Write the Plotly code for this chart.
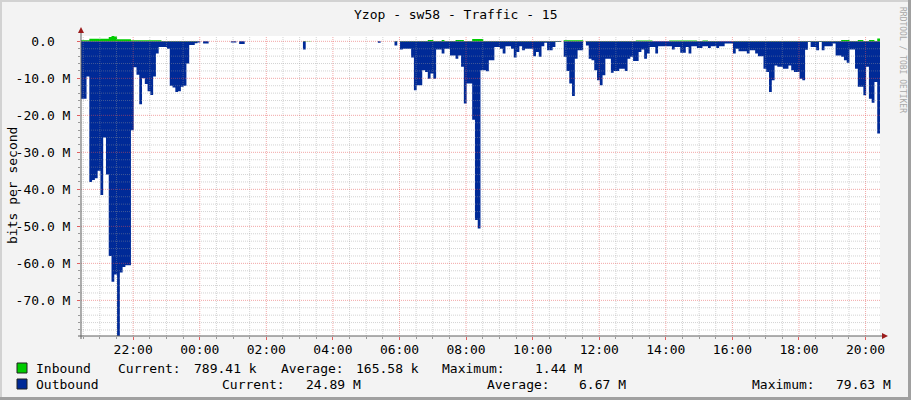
import pandas as pd
import plotly.graph_objects as go

# ---------------- data (Mbit/s, 5-minute steps) ----------------
start_time = "2024-01-01 20:26"
step_minutes = 5

outbound_m = [
    15.5, 15.5, 9.5, 38, 37.5, 37, 35, 41.5, 26, 36, 58, 65,
    63, 79.63, 62.5, 61, 60.5, 60.5, 24, 7, 9, 17, 10, 11.5,
    13.5, 14.5, 9.5, 3.3, 1.5, 1.5, 1.5, 2, 12, 12.5, 13.7, 13.5,
    12.3, 12, 6, 1, 1, 0.5, 0.3, 0, 0.6, 0.6, 0, 0,
    0, 0, 0, 0, 0, 0, 0.3, 0.3, 0, 0.7, 0.7, 0,
    0, 0, 0, 0, 0, 0, 0, 0, 0, 0, 0, 0,
    0, 0, 0, 0, 0, 0, 0, 0, 2.2, 0, 0, 0,
    0, 0, 0, 0, 0, 0, 0, 0, 0, 0, 0, 0,
    0, 0, 0, 0, 0, 0, 0, 0, 0, 0, 0, 0.4,
    0, 0, 0, 0, 0, 1.1, 0, 2.2, 2, 2, 2, 4.4,
    13.2, 11.9, 11.9, 7.8, 8.3, 10.1, 8.7, 10.1, 2.2, 2.2, 3.3, 2,
    2, 3.8, 3.8, 4.7, 3.8, 6.9, 16.8, 11.4, 11.4, 21.2, 48.3, 50.6,
    7.8, 7.8, 8.1, 5.1, 5.1, 1.5, 1.5, 2, 3.3, 1.3, 1.3, 2,
    4.4, 2.9, 1.3, 2.4, 2, 2, 2, 4, 2.9, 4.2, 1.3, 0.4,
    2.4, 2.4, 1.5, 0.2, 0.2, 0, 4.2, 8, 11.4, 14.8, 4.7, 2.4,
    2.4, 0, 1.1, 4.7, 5.1, 7.8, 10.5, 11.9, 9.2, 4.7, 4.7, 8.5,
    8, 8, 7.4, 7.4, 8, 4.7, 4.2, 5.3, 5.3, 2.9, 2.2, 4.7,
    3.3, 1.5, 1.5, 3.3, 1.3, 1.3, 1.3, 1.3, 1.3, 2.2, 1.5, 1.5,
    3.1, 3.1, 1.5, 3.3, 1.3, 1.3, 1.8, 1.8, 1.3, 1.3, 1.8, 1.3,
    1.3, 1.8, 1.3, 1.3, 0.6, 0.6, 0.6, 3.3, 2, 2.7, 2.7, 2.7,
    3.3, 2.4, 2.4, 3.3, 4, 4, 7.4, 8.3, 13.7, 10.5, 6.5, 6.9,
    6.9, 7.4, 7.4, 6.5, 7.8, 8.3, 8.3, 10.1, 10.5, 2.3, 0.2, 1.5,
    1.5, 2.4, 0.2, 2.4, 1.3, 1.3, 1.3, 0.6, 3.8, 3.8, 4.2, 5.1,
    5.8, 2.2, 2.2, 7.4, 12.3, 12.3, 14.6, 6.9, 15.5, 16.6, 11, 24.89,
]

inbound_m = [
    0.3, 0.3, 0.3, 0.7, 0.7, 0.7, 0.7, 0.7, 0.7, 0.7, 1.2, 1.44,
    1.3, 0.55, 0.55, 0.55, 0.55, 0.55, 0.3, 0.3, 0.3, 0.3, 0.3, 0.3,
    0.3, 0.3, 0.3, 0.3, 0.3, 0.1, 0.1, 0.1, 0.1, 0.1, 0.1, 0.1,
    0.1, 0.1, 0.1, 0.1, 0.1, 0.1, 0, 0, 0, 0, 0, 0,
    0, 0, 0, 0, 0, 0, 0, 0, 0, 0, 0, 0,
    0, 0, 0, 0, 0, 0, 0, 0, 0, 0, 0, 0,
    0, 0, 0, 0, 0, 0, 0, 0, 0.1, 0.1, 0.1, 0,
    0, 0, 0, 0, 0, 0, 0, 0, 0, 0, 0, 0,
    0, 0, 0, 0, 0, 0, 0, 0, 0, 0, 0, 0,
    0, 0, 0, 0, 0, 0.1, 0, 0.1, 0.1, 0.1, 0.1, 0.1,
    0.1, 0.1, 0.1, 0.1, 0.1, 0.35, 0.35, 0.1, 0.1, 0.1, 0.35, 0.1,
    0.1, 0.1, 0.1, 0.35, 0.35, 0.35, 0.1, 0.1, 0.1, 0.6, 0.6, 0.6,
    0.6, 0.1, 0.1, 0.1, 0.1, 0.1, 0.1, 0.1, 0.1, 0.1, 0.1, 0.1,
    0.1, 0.1, 0.1, 0.1, 0.1, 0.1, 0.1, 0.1, 0.1, 0.1, 0.1, 0.1,
    0.1, 0.1, 0.1, 0.1, 0.1, 0, 0.3, 0.3, 0.3, 0.3, 0.3, 0.3,
    0.3, 0, 0.1, 0.1, 0.1, 0.1, 0.1, 0.1, 0.1, 0.1, 0.1, 0.1,
    0.1, 0.1, 0.1, 0.1, 0.1, 0.1, 0.1, 0.1, 0.2, 0.2, 0.2, 0.2,
    0.2, 0.2, 0, 0, 0, 0, 0, 0, 0.2, 0.2, 0.2, 0.2,
    0.2, 0.2, 0.2, 0.2, 0.2, 0.2, 0.1, 0.1, 0.2, 0.2, 0.1, 0.1,
    0.1, 0.1, 0, 0, 0, 0, 0, 0.1, 0.1, 0.1, 0.1, 0.1,
    0.1, 0.1, 0.1, 0.1, 0.1, 0.1, 0.1, 0.1, 0.1, 0.1, 0.1, 0.1,
    0.1, 0.1, 0.1, 0.1, 0.1, 0.1, 0.1, 0.1, 0.1, 0.1, 0.1, 0.1,
    0.1, 0.1, 0.1, 0.1, 0.1, 0.1, 0.1, 0.1, 0.1, 0.1, 0.35, 0.35,
    0.35, 0.1, 0.1, 0.1, 0.35, 0.35, 0.1, 0.1, 0.35, 0.35, 0.1, 0.79,
]

y_tick_values = [0, -10e6, -20e6, -30e6, -40e6, -50e6, -60e6, -70e6]
y_tick_labels = ["0.0&nbsp;&nbsp;", "-10.0 M", "-20.0 M", "-30.0 M", "-40.0 M", "-50.0 M", "-60.0 M", "-70.0 M"]

title_text = "Yzop - sw58 - Traffic - 15"
legend_rows = [
    ("Inbound", "#00CC00", [("Current:", "789.41 k"), ("Average:", "165.58 k"), ("Maximum:", "1.44 M")]),
    ("Outbound", "#002A97", [("Current:", "24.89 M"), ("Average:", "6.67 M"), ("Maximum:", "79.63 M")]),
]

# ---------------- build ----------------
n = len(outbound_m)
times = pd.date_range(start=start_time, periods=n + 1, freq=f"{step_minutes}min")
out_vals = [-v * 1e6 for v in outbound_m] + [-outbound_m[-1] * 1e6]
in_vals = [v * 1e6 for v in inbound_m] + [inbound_m[-1] * 1e6]
y_min, y_max = -79.63e6, 1.44e6

FONT = "DejaVu Sans Mono"
W, H = 911, 400
L, R, T, B = 81, 880, 36, 336


def px(x):
    return (x - L) / (R - L)


def py(y):
    return (B - y) / (B - T)


fig = go.Figure()
fig.add_trace(go.Scatter(x=times, y=out_vals, mode="lines", line=dict(width=0, shape="hv", color="#002A97"),
                         fill="tozeroy", fillcolor="#002A97", hoverinfo="skip", showlegend=False))
fig.add_trace(go.Scatter(x=times, y=in_vals, mode="lines", line=dict(width=0, shape="hv", color="#00CC00"),
                         fill="tozeroy", fillcolor="#00CC00", hoverinfo="skip", showlegend=False))

major_grid = "rgba(230,80,80,0.5)"
minor_grid = "rgba(150,150,150,0.42)"
grid_dash = "1px,1px"

fig.update_xaxes(
    type="date", range=[times[0], times[-1]],
    tick0="2024-01-01 00:00", dtick=7200000, tickformat="%H:%M",
    showgrid=False,
    minor=dict(dtick=1800000, showgrid=False, ticks="outside", ticklen=2, tickcolor="#999999"),
    ticks="outside", ticklen=3, tickcolor="#E06060",
    showline=False, zeroline=False, ticklabelstandoff=-2,
    tickfont=dict(family=FONT, size=13, color="#000000"),
)
fig.update_yaxes(
    range=[y_min, y_max],
    tickmode="array", tickvals=y_tick_values, ticktext=y_tick_labels,
    showgrid=False,
    minor=dict(tick0=0, dtick=2e6, showgrid=False, ticks="outside", ticklen=2, tickcolor="#999999"),
    ticks="outside", ticklen=3, tickcolor="#E06060",
    showline=False, zeroline=False, ticklabelstandoff=4,
    tickfont=dict(family=FONT, size=13, color="#000000"),
)

shapes = []
# grid drawn above the areas (as rrdtool does)
for t in pd.date_range(times[0].ceil("30min"), times[-1], freq="30min"):
    is_major = t.minute == 0 and t.hour % 2 == 0
    shapes.append(dict(type="line", xref="x", yref="paper", x0=t, x1=t, y0=0, y1=1, layer="above",
                       line=dict(color=major_grid if is_major else minor_grid, width=1, dash=grid_dash)))
for v in range(0, int(y_min / 1e6) - 1, -2):
    if v * 1e6 < y_min:
        continue
    is_major = v % 10 == 0
    shapes.append(dict(type="line", xref="paper", yref="y", x0=0, x1=1, y0=v * 1e6, y1=v * 1e6, layer="above",
                       line=dict(color=major_grid if is_major else minor_grid, width=1, dash=grid_dash)))

# outer frame
shapes.append(dict(type="rect", xref="paper", yref="paper", x0=px(0), x1=px(W), y0=py(0), y1=py(2),
                   fillcolor="#D2D2D2", line=dict(width=0), layer="below"))
shapes.append(dict(type="rect", xref="paper", yref="paper", x0=px(0), x1=px(2), y0=py(0), y1=py(H),
                   fillcolor="#D2D2D2", line=dict(width=0), layer="below"))
shapes.append(dict(type="rect", xref="paper", yref="paper", x0=px(W - 3), x1=px(W), y0=py(0), y1=py(H),
                   fillcolor="#A0A0A0", line=dict(width=0), layer="below"))
shapes.append(dict(type="rect", xref="paper", yref="paper", x0=px(0), x1=px(W), y0=py(H - 3), y1=py(H),
                   fillcolor="#A0A0A0", line=dict(width=0), layer="below"))
# axis lines
shapes.append(dict(type="line", xref="paper", yref="paper", x0=px(81), x1=px(81), y0=py(339), y1=py(31),
                   line=dict(color="#606060", width=1), layer="above"))
shapes.append(dict(type="line", xref="paper", yref="paper", x0=px(78), x1=px(884), y0=py(336), y1=py(336),
                   line=dict(color="#606060", width=1), layer="above"))
# arrow heads
shapes.append(dict(type="path", xref="paper", yref="paper",
                   path=f"M {px(78)} {py(33)} L {px(84)} {py(33)} L {px(81)} {py(27)} Z",
                   fillcolor="#9B1C1C", line=dict(width=0)))
shapes.append(dict(type="path", xref="paper", yref="paper",
                   path=f"M {px(882)} {py(333)} L {px(882)} {py(339)} L {px(888)} {py(336)} Z",
                   fillcolor="#9B1C1C", line=dict(width=0)))

annotations = []
annotations.append(dict(text=title_text, xref="paper", yref="paper", x=px(455.5), y=py(14),
                        xanchor="center", yanchor="middle", showarrow=False,
                        font=dict(family=FONT, size=13, color="#000000")))
annotations.append(dict(text="bits per second", xref="paper", yref="paper", x=px(12), y=py(186),
                        xanchor="center", yanchor="middle", textangle=-90, showarrow=False,
                        font=dict(family=FONT, size=13, color="#000000")))
annotations.append(dict(text="RRDTOOL / TOBI OETIKER", xref="paper", yref="paper", x=px(902), y=py(60),
                        xanchor="center", yanchor="middle", textangle=90, showarrow=False,
                        font=dict(family=FONT, size=8, color="#A8A8A8")))

row_y = [368, 384]
label_x = [[116, 279, 440], [220, 485, 750]]
value_right = [[259, 421, 584], [363, 628, 893]]
for r, (name, color, stats) in enumerate(legend_rows):
    yy = row_y[r]
    shapes.append(dict(type="rect", xref="paper", yref="paper", x0=px(17), x1=px(27), y0=py(yy - 5), y1=py(yy + 5),
                       fillcolor=color, line=dict(color="#202020", width=1)))
    annotations.append(dict(text=name, xref="paper", yref="paper", x=px(34), y=py(yy), xanchor="left",
                            yanchor="middle", showarrow=False, font=dict(family=FONT, size=13, color="#000000")))
    for k, (lab, val) in enumerate(stats):
        annotations.append(dict(text=lab, xref="paper", yref="paper", x=px(label_x[r][k]), y=py(yy),
                                xanchor="left", yanchor="middle", showarrow=False,
                                font=dict(family=FONT, size=13, color="#000000")))
        annotations.append(dict(text=val, xref="paper", yref="paper", x=px(value_right[r][k]), y=py(yy),
                                xanchor="right", yanchor="middle", showarrow=False,
                                font=dict(family=FONT, size=13, color="#000000")))

fig.update_layout(
    width=W, height=H,
    margin=dict(l=L, r=W - R, t=T, b=H - B, pad=0, autoexpand=False),
    paper_bgcolor="#F3F3F3", plot_bgcolor="#FFFFFF",
    shapes=shapes, annotations=annotations, showlegend=False,
    font=dict(family=FONT, size=13),
)

fig.write_html(
    "out.html",
    config={"displayModeBar": False},
    post_script="document.body.style.margin='0';document.body.style.padding='0';"
                "document.body.style.overflow='hidden';document.body.style.background='#F3F3F3';",
)
